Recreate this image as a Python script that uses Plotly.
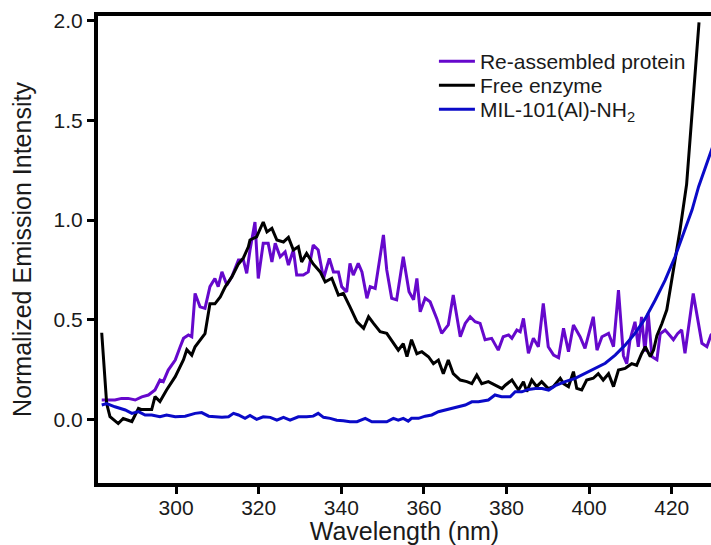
import plotly.graph_objects as go

# ---------------- data ----------------
free_x = [282.0, 283.2, 284.0, 286.0, 287.2, 288.4, 289.3, 290.9, 291.7, 294.1, 294.9, 296.1,
          297.7, 299.8, 301.8, 302.6, 303.8, 304.6, 305.8, 307.0, 308.2, 309.4, 310.7, 311.9,
          313.5, 315.1, 316.3, 317.5, 317.9, 319.5, 321.1, 322.0, 323.2, 324.4, 326.0, 327.2,
          328.4, 329.6, 330.4, 331.6, 333.2, 334.9, 336.1, 337.7, 339.3, 340.5, 342.1, 343.8,
          345.4, 346.6, 347.8, 349.4, 351.0, 352.6, 353.8, 355.0, 355.9, 357.0, 358.3, 359.5,
          361.1, 362.3, 363.5, 364.7, 365.9, 367.1, 368.8, 370.4, 371.6, 372.8, 374.0, 375.6,
          377.2, 378.9, 379.7, 381.3, 382.9, 384.1, 384.9, 386.1, 387.3, 388.5, 390.1, 391.3,
          393.0, 393.8, 395.0, 396.2, 397.0, 398.2, 399.4, 401.0, 402.2, 403.4, 404.7, 405.9,
          407.1, 408.7, 410.3, 411.5, 412.7, 413.6, 414.8, 415.6, 416.4, 417.6, 418.8, 420.4,
          422.0, 423.6, 424.9, 425.7, 426.6]
free_y = [0.435, 0.08, 0.015, -0.02, 0.005, -0.003, -0.01, 0.056, 0.05, 0.05, 0.115, 0.09,
          0.148, 0.215, 0.30, 0.35, 0.323, 0.365, 0.40, 0.43, 0.58, 0.58, 0.615, 0.665,
          0.715, 0.78, 0.81, 0.866, 0.90, 0.916, 0.99, 0.94, 0.958, 0.90, 0.89, 0.913,
          0.85, 0.866, 0.79, 0.833, 0.78, 0.74, 0.69, 0.708, 0.624, 0.633, 0.565, 0.49,
          0.457, 0.515, 0.482, 0.44, 0.432, 0.38, 0.348, 0.38, 0.315, 0.40, 0.33, 0.34,
          0.315, 0.28, 0.298, 0.23, 0.298, 0.23, 0.198, 0.19, 0.18, 0.223, 0.18, 0.19,
          0.172, 0.155, 0.172, 0.198, 0.148, 0.19, 0.14, 0.198, 0.165, 0.19, 0.155, 0.165,
          0.207, 0.18, 0.165, 0.24, 0.156, 0.148, 0.198, 0.207, 0.23, 0.198, 0.23, 0.165,
          0.248, 0.256, 0.28, 0.272, 0.33, 0.365, 0.315, 0.348, 0.42, 0.48, 0.55, 0.74,
          0.95, 1.18, 1.52, 1.77, 1.99]

prot_x = [282.0, 283.6, 285.2, 286.8, 288.4, 290.1, 291.7, 293.3, 294.9, 296.1, 296.9, 298.1,
          299.8, 301.0, 301.8, 303.0, 303.8, 304.6, 305.8, 307.0, 308.2, 309.4, 310.2, 311.1,
          312.3, 313.5, 315.1, 316.3, 317.1, 317.9, 319.1, 319.9, 321.1, 322.3, 323.2, 324.0,
          325.2, 326.4, 327.2, 328.4, 329.2, 330.8, 332.0, 333.2, 334.4, 335.7, 337.1, 338.1,
          339.3, 340.1, 341.3, 342.1, 342.9, 344.1, 345.0, 346.2, 347.0, 348.2, 349.0, 350.2,
          351.0, 352.2, 353.4, 355.0, 356.4, 357.5, 358.3, 359.1, 360.3, 361.5, 363.1, 364.3,
          365.9, 367.1, 368.8, 370.0, 371.2, 372.4, 373.6, 374.8, 376.4, 378.0, 379.2, 380.5,
          381.3, 382.5, 383.3, 384.1, 385.3, 386.5, 387.7, 388.9, 390.1, 391.4, 392.6, 393.8,
          395.0, 396.2, 397.8, 399.0, 401.0, 401.9, 403.1, 404.7, 405.9, 407.1, 408.3, 409.1,
          409.9, 411.1, 411.9, 412.7, 413.5, 414.3, 415.2, 416.4, 417.2, 418.4, 419.6, 420.4,
          421.4, 422.4, 423.2, 425.2, 427.3, 428.5, 429.5, 430.5]
prot_y = [0.098, 0.098, 0.098, 0.106, 0.106, 0.098, 0.114, 0.123, 0.148, 0.198, 0.19, 0.248,
          0.298, 0.365, 0.407, 0.424, 0.415, 0.632, 0.565, 0.557, 0.666, 0.707, 0.666, 0.74,
          0.674, 0.716, 0.80, 0.80, 0.733, 0.85, 0.99, 0.707, 0.883, 0.883, 0.79, 0.883,
          0.816, 0.84, 0.774, 0.85, 0.724, 0.724, 0.74, 0.875, 0.85, 0.707, 0.808, 0.74,
          0.74, 0.666, 0.64, 0.783, 0.724, 0.783, 0.74, 0.608, 0.666, 0.657, 0.766, 0.925,
          0.75, 0.608, 0.60, 0.816, 0.64, 0.60, 0.707, 0.54, 0.608, 0.59, 0.507, 0.432,
          0.474, 0.624, 0.415, 0.482, 0.515, 0.49, 0.482, 0.40, 0.407, 0.348, 0.415, 0.424,
          0.407, 0.449, 0.44, 0.507, 0.332, 0.407, 0.365, 0.582, 0.365, 0.323, 0.31, 0.457,
          0.34, 0.474, 0.415, 0.357, 0.515, 0.348, 0.415, 0.432, 0.365, 0.649, 0.32, 0.28,
          0.40, 0.49, 0.365, 0.515, 0.34, 0.532, 0.315, 0.30, 0.43, 0.449, 0.42, 0.40,
          0.43, 0.449, 0.332, 0.632, 0.382, 0.365, 0.424, 0.44]

mil_x = [282.0, 283.2, 285.2, 287.7, 289.3, 290.9, 292.5, 294.1, 296.1, 297.7, 299.8, 302.2,
         304.6, 306.2, 307.9, 309.5, 311.1, 312.7, 313.9, 315.1, 316.7, 317.9, 319.5, 321.1,
         322.8, 324.4, 326.0, 327.6, 329.6, 331.6, 333.2, 334.4, 335.7, 337.3, 338.9, 340.5,
         342.1, 343.8, 345.8, 347.4, 349.4, 351.0, 352.6, 353.8, 355.0, 356.2, 357.0, 358.7,
         360.3, 361.9, 363.5, 365.1, 366.7, 368.4, 370.0, 371.6, 373.2, 375.6, 377.2, 378.8,
         380.9, 382.1, 383.7, 385.3, 387.0, 388.6, 390.2, 391.8, 393.4, 394.2, 396.6, 399.0,
         401.5, 403.9, 406.3, 408.7, 411.1, 413.6, 416.0, 418.4, 420.8, 423.2, 424.9, 426.5,
         428.1, 429.6, 431.0]
mil_y = [0.073, 0.08, 0.064, 0.048, 0.031, 0.04, 0.023, 0.023, 0.014, 0.023, 0.014, 0.017,
         0.031, 0.035, 0.017, 0.014, 0.011, 0.014, 0.031, 0.023, 0.006, 0.02, 0.001, 0.014,
         0.011, -0.003, 0.011, -0.003, 0.014, 0.014, 0.017, 0.031, 0.011, 0.006, -0.003, -0.006,
         -0.011, -0.011, 0.006, -0.011, -0.011, -0.011, 0.006, -0.003, 0.006, -0.008, 0.006, 0.006,
         0.017, 0.023, 0.039, 0.048, 0.056, 0.064, 0.073, 0.089, 0.089, 0.098, 0.123, 0.114,
         0.114, 0.139, 0.139, 0.151, 0.156, 0.156, 0.148, 0.17, 0.185, 0.19, 0.206, 0.232,
         0.257, 0.282, 0.323, 0.373, 0.432, 0.507, 0.599, 0.699, 0.816, 0.95, 1.05, 1.167,
         1.267, 1.35, 1.43]

series_names = ["Re-assembled protein", "Free enzyme", "MIL-101(Al)-NH<sub>2</sub>"]
x_ticks = [300, 320, 340, 360, 380, 400, 420]
y_ticks = [0.0, 0.5, 1.0, 1.5, 2.0]

# ---------------- figure ----------------
FONT = "Arial, 'Liberation Sans', sans-serif"
fig = go.Figure()
fig.add_trace(go.Scatter(x=prot_x, y=prot_y, mode="lines", name=series_names[0],
                         line=dict(color="#6608cc", width=3), legend="legend"))
fig.add_trace(go.Scatter(x=free_x, y=free_y, mode="lines", name=series_names[1],
                         line=dict(color="#000000", width=3), legend="legend2"))
fig.add_trace(go.Scatter(x=mil_x, y=mil_y, mode="lines", name=series_names[2],
                         line=dict(color="#0a0ac8", width=3), legend="legend3"))

leg_common = dict(x=0.548, xanchor="left", yanchor="top", bgcolor="rgba(0,0,0,0)",
                  font=dict(size=21, family=FONT, color="#1a1a1a"), itemwidth=36)

fig.update_layout(
    width=711, height=545,
    margin=dict(l=98, r=0, t=16, b=62),
    paper_bgcolor="white", plot_bgcolor="white",
    font=dict(family=FONT, size=21, color="#1a1a1a"),
    showlegend=True,
    legend=dict(y=0.9465, **leg_common),
    legend2=dict(y=0.8951, **leg_common),
    legend3=dict(y=0.8437, **leg_common),
    xaxis=dict(range=[281.1, 429.5], tickvals=x_ticks, ticks="outside", ticklen=7,
               tickwidth=3, tickcolor="black", showline=True, linewidth=4,
               linecolor="black", mirror=True, showgrid=False, zeroline=False,
               ticklabelstandoff=-4,
               title=dict(text="Wavelength (nm)", standoff=0),
               tickfont=dict(size=21)),
    yaxis=dict(range=[-0.318, 2.0225], tickvals=y_ticks, tickformat=".1f",
               ticks="outside", ticklen=7, tickwidth=3, tickcolor="black",
               showline=True, linewidth=4, linecolor="black", showgrid=False,
               zeroline=False, title=dict(text="Normalized Emission Intensity", standoff=16),
               tickfont=dict(size=21)),
)

fig.write_html("out.html")
